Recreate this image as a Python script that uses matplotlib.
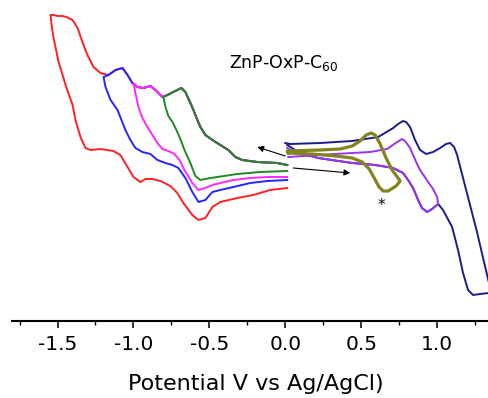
import matplotlib
matplotlib.use("Agg")
import matplotlib.pyplot as plt
import numpy as np

plt.rcParams['font.family'] = ['DejaVu Sans']
plt.rcParams['axes.unicode_minus'] = False

# forward (cathodic) scan shared by the four reduction CVs, from 0 V to -1.2 V
top_v = [0.013, -0.053, -0.184, -0.283, -0.329, -0.375, -0.428, -0.480, -0.526,
         -0.559, -0.579, -0.605, -0.625, -0.658, -0.684, -0.711, -0.776, -0.809,
         -0.855, -0.888, -0.934, -0.974, -1.007, -1.039, -1.072, -1.118, -1.164, -1.197]
top_i = [15.6, 15.8, 15.9, 16.1, 16.4, 17.1, 17.6, 18.1, 18.6,
         19.4, 20.1, 21.1, 21.8, 22.9, 23.3, 23.1, 22.6, 22.4,
         23.1, 23.5, 23.3, 23.4, 23.8, 24.6, 25.3, 25.1, 24.6, 24.4]

# red: scan continued to -1.55 V and back
red_v = [-1.217, -1.263, -1.303, -1.336, -1.368, -1.401, -1.441, -1.467, -1.500,
         -1.526, -1.546, -1.539, -1.526, -1.493, -1.447, -1.401, -1.382, -1.349,
         -1.316, -1.283, -1.217, -1.132, -1.086, -1.039, -1.000, -0.954, -0.921,
         -0.875, -0.822, -0.757, -0.711, -0.671, -0.612, -0.572, -0.526, -0.480,
         -0.428, -0.316, -0.211, -0.099, 0.013]
red_i = [24.8, 25.4, 26.6, 27.9, 29.3, 30.1, 30.4, 30.5, 30.5,
         30.6, 30.6, 29.6, 28.3, 25.9, 23.6, 21.6, 20.1, 18.4,
         17.3, 17.1, 17.2, 17.0, 16.6, 15.4, 14.4, 13.9, 14.2,
         14.2, 14.0, 13.5, 12.8, 11.8, 10.6, 10.1, 10.3, 11.4,
         11.9, 12.3, 12.6, 13.1, 13.3]

# return scans (switching potential first)
blue_v = [-1.197, -1.184, -1.151, -1.105, -1.079, -1.053, -1.020, -0.987, -0.941,
          -0.888, -0.842, -0.789, -0.743, -0.704, -0.658, -0.612, -0.572, -0.526,
          -0.480, -0.428, -0.342, -0.230, -0.118, 0.013]
blue_i = [24.4, 23.4, 22.1, 21.1, 20.1, 19.1, 18.1, 17.3, 16.9,
          16.7, 16.1, 15.8, 15.6, 15.3, 14.3, 12.9, 11.9, 12.1,
          12.9, 13.1, 13.4, 13.8, 14.0, 14.1]

magenta_v = [-1.000, -0.987, -0.967, -0.941, -0.908, -0.875, -0.842, -0.809, -0.770,
             -0.730, -0.697, -0.664, -0.612, -0.572, -0.526, -0.480, -0.428, -0.342,
             -0.230, -0.118, 0.013]
magenta_i = [23.8, 22.8, 21.4, 20.3, 19.4, 18.6, 17.8, 17.2, 17.0,
             16.7, 16.1, 15.1, 13.8, 13.1, 13.3, 13.6, 13.8, 14.1,
             14.3, 14.4, 14.4]

green_v = [-0.803, -0.789, -0.770, -0.743, -0.717, -0.691, -0.664, -0.625, -0.592,
           -0.559, -0.493, -0.447, -0.316, -0.164, 0.013]
green_i = [22.4, 21.4, 20.5, 19.9, 19.1, 18.2, 17.1, 15.8, 14.5,
           14.1, 14.3, 14.4, 14.7, 14.9, 15.0]

# oxidation CVs
purple_fwd_v = [0.013, 0.046, 0.086, 0.217, 0.441, 0.592, 0.711, 0.776, 0.809,
                0.842, 0.875, 0.901, 0.934, 0.967, 1.007]
purple_fwd_i = [17.3, 17.0, 16.8, 16.3, 15.8, 15.6, 15.3, 14.8, 14.1,
                13.3, 12.1, 11.3, 10.9, 11.2, 11.7]
purple_rev_v = [1.000, 0.974, 0.941, 0.888, 0.862, 0.822, 0.789, 0.770, 0.737,
                0.671, 0.559, 0.441, 0.217, 0.020]
purple_rev_i = [12.4, 13.2, 13.9, 15.1, 15.9, 17.3, 18.0, 18.2, 17.9,
                17.2, 16.9, 16.8, 16.6, 16.4]

navy_fwd_v = [0.013, 0.086, 0.217, 0.441, 0.592, 0.711, 0.776, 0.809, 0.842,
              0.875, 0.901, 0.934, 0.967, 1.007, 1.039, 1.099, 1.138, 1.171,
              1.204, 1.237, 1.283, 1.342, 1.368]
navy_fwd_i = [17.6, 16.9, 16.3, 15.8, 15.6, 15.3, 14.8, 14.1, 13.3,
              12.1, 11.3, 10.9, 11.2, 11.7, 11.1, 9.4, 7.1, 4.8,
              3.1, 2.6, 2.7, 2.8, 3.0]
navy_rev_v = [1.342, 1.303, 1.263, 1.217, 1.171, 1.132, 1.112, 1.086, 1.059,
              1.020, 0.974, 0.928, 0.888, 0.855, 0.822, 0.796, 0.776, 0.743,
              0.711, 0.612, 0.441, 0.230, 0.033, 0.000]
navy_rev_i = [3.8, 6.3, 8.9, 11.6, 14.3, 16.6, 17.4, 17.8, 17.7,
              17.3, 16.9, 16.7, 17.1, 18.1, 19.4, 19.9, 20.0, 19.7,
              19.3, 18.4, 18.0, 17.8, 17.7, 17.8]

olive_v = [0.020, 0.178, 0.329, 0.441, 0.507, 0.553, 0.586, 0.618, 0.645,
           0.678, 0.730, 0.757, 0.743, 0.704, 0.664, 0.625, 0.592, 0.566,
           0.533, 0.493, 0.441, 0.362, 0.230, 0.013, 0.020]
olive_i = [16.8, 16.7, 16.5, 16.3, 15.9, 15.2, 14.3, 13.4, 13.0,
           13.0, 13.5, 14.0, 14.3, 15.1, 16.3, 17.7, 18.6, 18.8,
           18.6, 18.0, 17.5, 17.2, 17.1, 17.0, 16.8]

# scan direction arrows (tail, head)
arrow_left = [(0.0, 16.5), (-0.184, 17.4)]
arrow_right = [(0.053, 15.3), (0.428, 14.8)]


def loop(switch_v, ret_v, ret_i):
    tv = np.array(top_v)
    ti = np.array(top_i)
    keep = tv > switch_v + 1e-6
    return (np.concatenate([tv[keep], ret_v]),
            np.concatenate([ti[keep], ret_i]))


fig = plt.figure(figsize=(4.89, 3.98), dpi=100)
ax = fig.add_axes([12 / 489, 77 / 398, 477 / 489, 316 / 398])

lw = 1.4
x, y = loop(-1.197, red_v, red_i)
ax.plot(x, y, color='#ff2121', lw=lw)
x, y = loop(-1.197, blue_v, blue_i)
ax.plot(x, y, color='#2525ff', lw=lw)
x, y = loop(-1.000, magenta_v, magenta_i)
ax.plot(x, y, color='#ff28ff', lw=lw)
x, y = loop(-0.803, green_v, green_i)
ax.plot(x, y, color='#1f8a1f', lw=lw)

ax.plot(navy_fwd_v + navy_rev_v, navy_fwd_i + navy_rev_i, color='#1c1c8c', lw=lw)
ax.plot(purple_fwd_v + purple_rev_v, purple_fwd_i + purple_rev_i, color='#9933ee', lw=lw)
ax.plot(olive_v, olive_i, color='#84841e', lw=2.3)

for tail, head in (arrow_left, arrow_right):
    ax.annotate('', xy=head, xytext=tail,
                arrowprops=dict(arrowstyle='-|>', color='black', lw=0.8,
                                mutation_scale=9, shrinkA=0, shrinkB=0))

ax.text(-0.01, 25.8, 'ZnP-OxP-C$_{60}$', ha='center', va='center', fontsize=12.5)
ax.text(0.632, 11.6, '*', ha='center', va='center', fontsize=11)

ax.set_xlim(-1.80, 1.342)
ax.set_ylim(0, 31.6)
for s in ('left', 'right', 'top'):
    ax.spines[s].set_visible(False)
ax.spines['bottom'].set_linewidth(1.5)
ax.set_yticks([])
ax.set_xticks([-1.5, -1.0, -0.5, 0.0, 0.5, 1.0])
ax.set_xticks(np.arange(-1.75, 1.34, 0.25), minor=True)
ax.tick_params(axis='x', which='major', direction='out', length=5, width=1.1,
               labelsize=14.5, pad=5)
ax.tick_params(axis='x', which='minor', direction='out', length=3, width=1.0)
ax.set_xlabel('Potential V vs Ag/AgCl)', fontsize=16)
ax.xaxis.set_label_coords(0.512, -0.168)

fig.savefig('out.png', dpi=100)
